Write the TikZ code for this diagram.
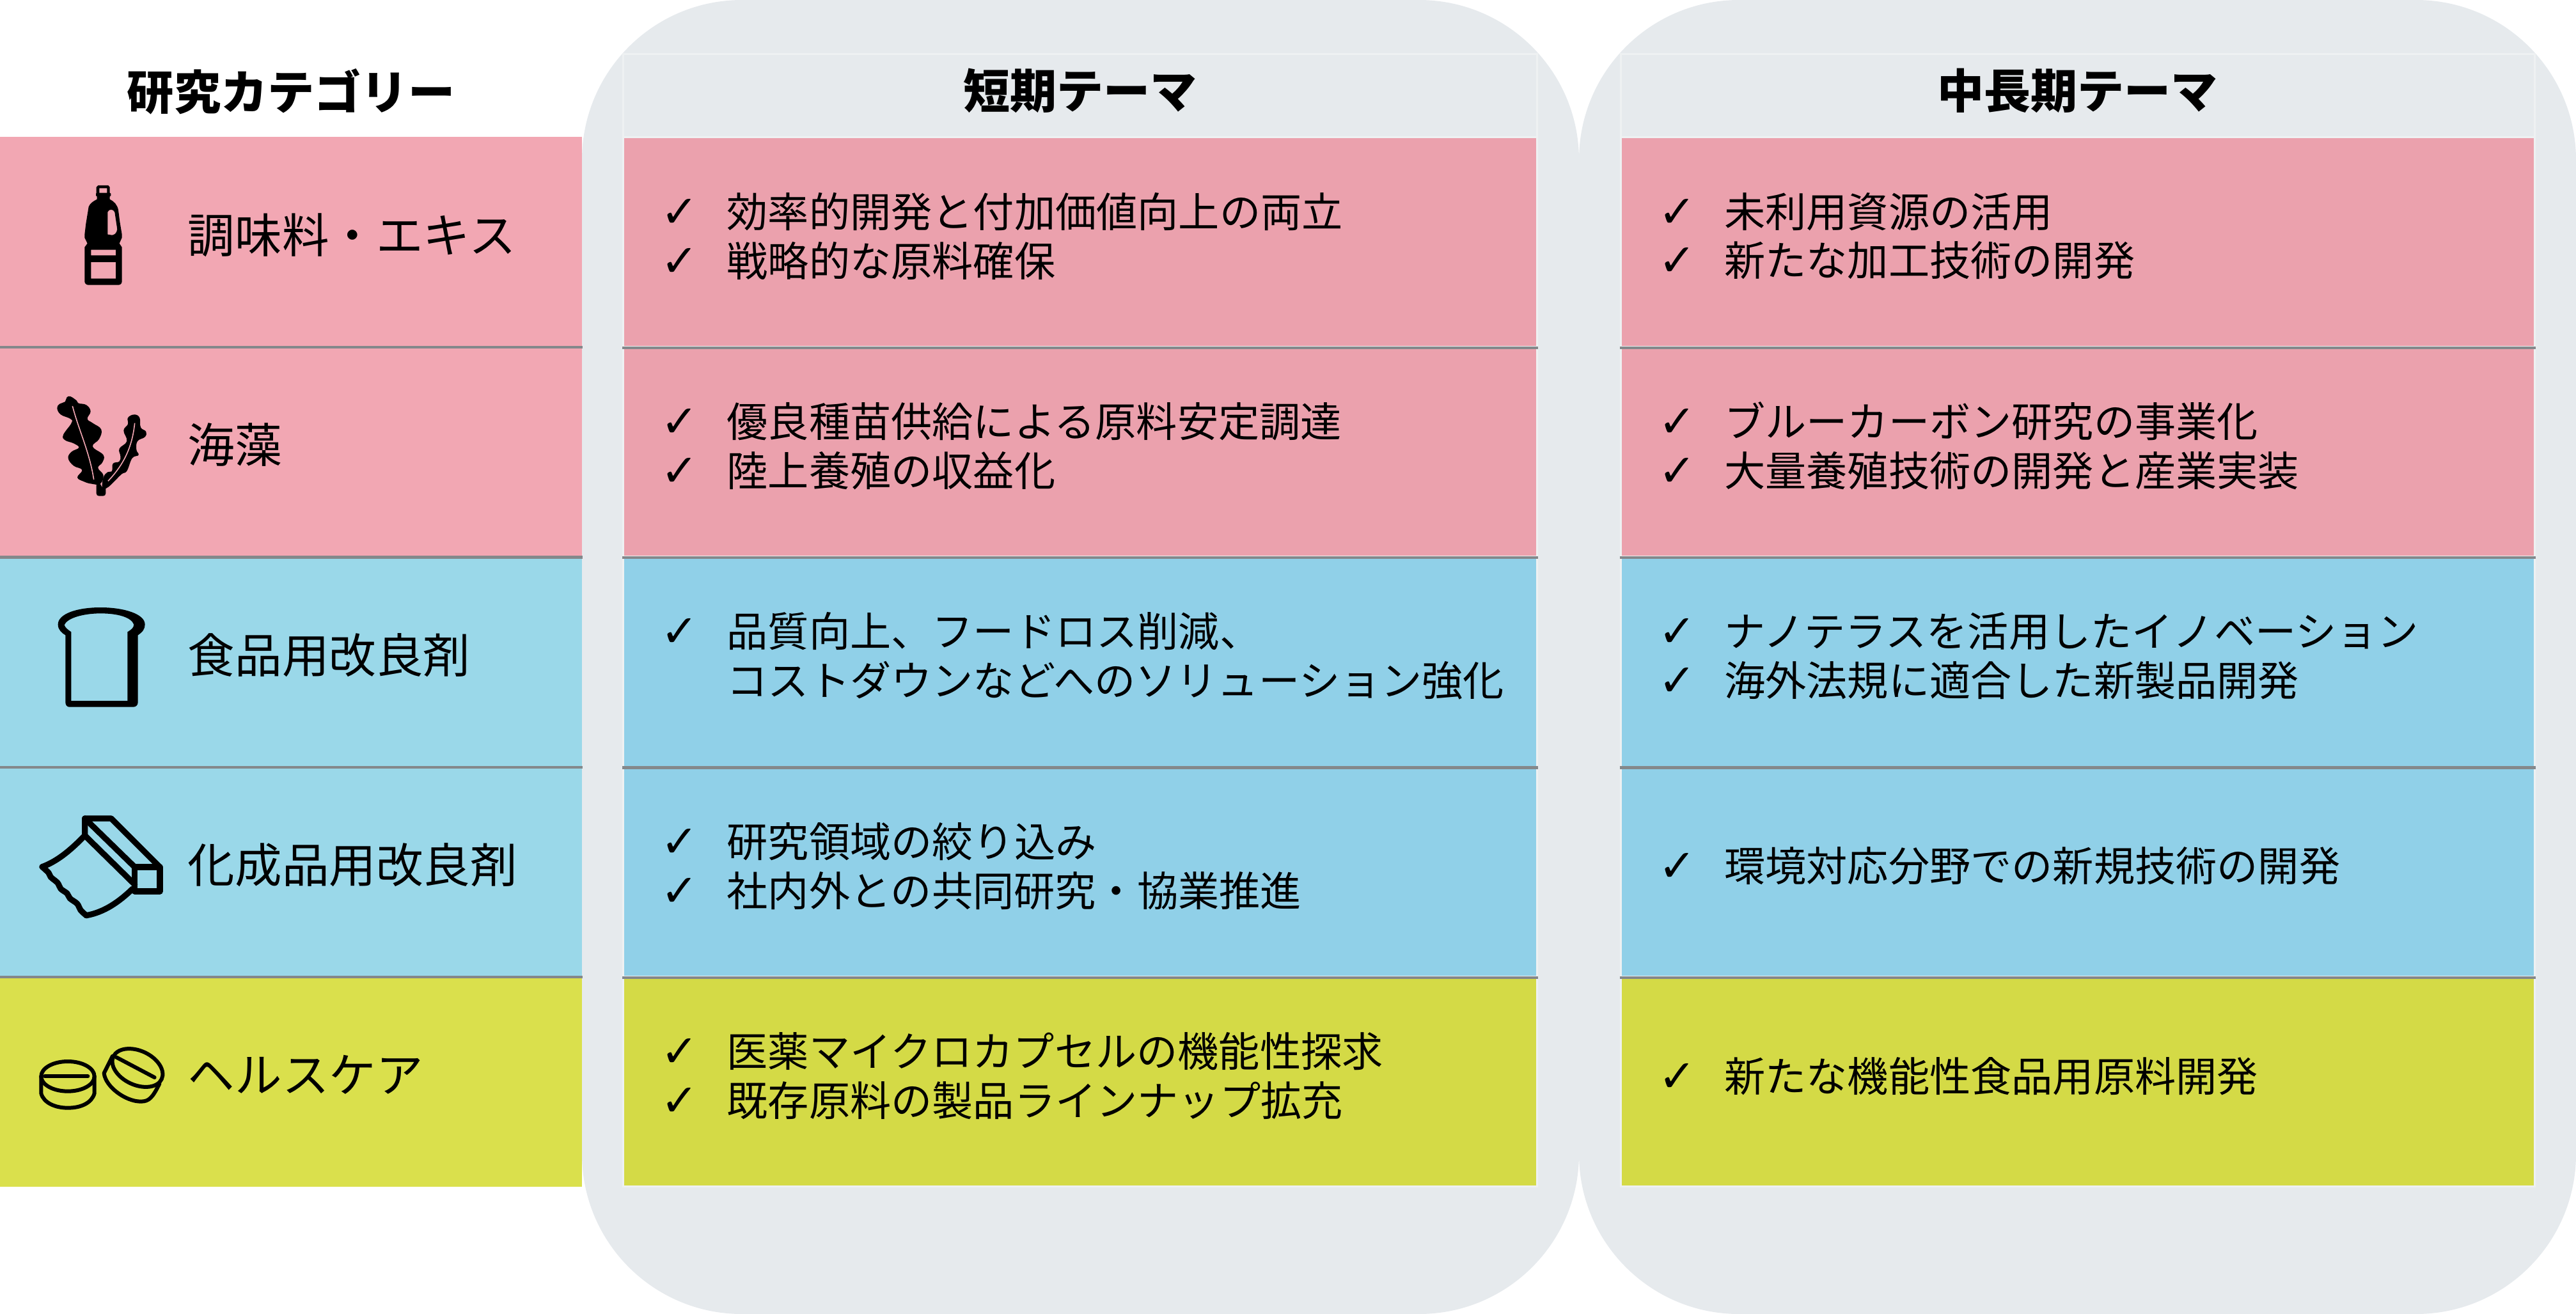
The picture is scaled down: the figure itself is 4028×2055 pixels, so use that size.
\documentclass[tikz,border=0pt]{standalone}
\usepackage{fontspec}
\usepackage{xcolor}
\usepackage{tikz}
\usetikzlibrary{positioning}
\setmainfont{Noto Sans CJK JP}
\newfontfamily\chkfont{DejaVu Sans}
\definecolor{dfbg}{RGB}{230,234,237}
\definecolor{dfedge}{RGB}{238,241,242}
\definecolor{dfrow}{RGB}{132,136,139}
\definecolor{catpink}{RGB}{242,167,179}
\definecolor{catblue}{RGB}{154,216,233}
\definecolor{catlime}{RGB}{218,224,76}
\definecolor{cellpink}{RGB}{235,161,173}
\definecolor{cellblue}{RGB}{144,208,232}
\definecolor{celllime}{RGB}{212,218,70}
\newcommand{\chk}{\hspace*{-0.6pt}{\chkfont\fontsize{17.5pt}{19pt}\selectfont ✓}}
\tikzstyle{bgbox} = [rectangle, minimum width=389.75pt, minimum height=513.75pt, inner sep=0pt, rounded corners=62.5pt, fill=dfbg]
\tikzstyle{catbox} = [rectangle, minimum height=82.1pt, text width=227.5pt, text height=15.12pt, text depth=6.48pt, inner sep=0pt, align=left, font=\fontsize{18.4pt}{21.6pt}\selectfont, execute at begin node={\hspace*{73.5pt}}]
\tikzstyle{cellbox} = [rectangle, minimum height=82.1pt, text width=326.45pt, inner xsep=15.4pt, inner ysep=0pt, align=left, draw=dfedge, line width=0.75pt, font=\fontsize{16.05pt}{19.1pt}\selectfont]
\tikzstyle{headbox} = [rectangle, minimum width=357.25pt, minimum height=32.5pt, text height=16pt, text depth=6pt, inner sep=0pt, draw=dfedge, line width=0.75pt, fill=dfbg, font=\fontsize{18.25pt}{21.6pt}\selectfont\bfseries]
\tikzstyle{rowline} = [line width=1.1pt, color=dfrow]
\tikzstyle{iconline} = [line width=2.3pt, line join=round, line cap=round]
\tikzstyle{pillline} = [line width=1.5pt, line join=round, line cap=round]

\begin{document}
\begin{tikzpicture}[x=0.25pt, y=-0.25pt, node distance=82.1pt]
\useasboundingbox (0,0) rectangle (4028,2055);
% Rounded panels
\node (shortbg) [bgbox] at (1689.5,1027.5) {};
\node (longbg) [bgbox] at (3248.5,1027.5) {};

% Category column
\node (cat1) [catbox, fill=catpink] at (455,378) {調味料・エキス};
\node (cat2) [catbox, fill=catpink, below of=cat1] {海藻};
\node (cat3) [catbox, fill=catblue, below of=cat2] {食品用改良剤};
\node (cat4) [catbox, fill=catblue, below of=cat3] {化成品用改良剤};
\node (cat5) [catbox, fill=catlime, below of=cat4] {ヘルスケア};

% Short term column
\node (short1) [cellbox, fill=cellpink] at (1689,378) {
\begin{tabular}{@{}p{25.15pt}@{}l@{}}
\chk & 効率的開発と付加価値向上の両立\\
\chk & 戦略的な原料確保
\end{tabular}
};
\node (short2) [cellbox, fill=cellpink, below of=short1] {
\begin{tabular}{@{}p{25.15pt}@{}l@{}}
\chk & 優良種苗供給による原料安定調達\\
\chk & 陸上養殖の収益化
\end{tabular}
};
\node (short3) [cellbox, fill=cellblue, below of=short2] {
\begin{tabular}{@{}p{25.15pt}@{}l@{}}
\chk & 品質向上、フードロス削減、\\
 & コストダウンなどへのソリューション強化
\end{tabular}
};
\node (short4) [cellbox, fill=cellblue, below of=short3] {
\begin{tabular}{@{}p{25.15pt}@{}l@{}}
\chk & 研究領域の絞り込み\\
\chk & 社内外との共同研究・協業推進
\end{tabular}
};
\node (short5) [cellbox, fill=celllime, below of=short4] {
\begin{tabular}{@{}p{25.15pt}@{}l@{}}
\chk & 医薬マイクロカプセルの機能性探求\\
\chk & 既存原料の製品ラインナップ拡充
\end{tabular}
};

% Long term column
\node (long1) [cellbox, fill=cellpink] at (3248.5,378) {
\begin{tabular}{@{}p{25.15pt}@{}l@{}}
\chk & 未利用資源の活用\\
\chk & 新たな加工技術の開発
\end{tabular}
};
\node (long2) [cellbox, fill=cellpink, below of=long1] {
\begin{tabular}{@{}p{25.15pt}@{}l@{}}
\chk & ブルーカーボン研究の事業化\\
\chk & 大量養殖技術の開発と産業実装
\end{tabular}
};
\node (long3) [cellbox, fill=cellblue, below of=long2] {
\begin{tabular}{@{}p{25.15pt}@{}l@{}}
\chk & ナノテラスを活用したイノベーション\\
\chk & 海外法規に適合した新製品開発
\end{tabular}
};
\node (long4) [cellbox, fill=cellblue, below of=long3] {
\begin{tabular}{@{}p{25.15pt}@{}l@{}}
\chk & 環境対応分野での新規技術の開発
\end{tabular}
};
\node (long5) [cellbox, fill=celllime, below of=long4] {
\begin{tabular}{@{}p{25.15pt}@{}l@{}}
\chk & 新たな機能性食品用原料開発
\end{tabular}
};

% Headers
\node (cathead) [font=\fontsize{18.3pt}{21.6pt}\selectfont\bfseries, inner sep=0pt] at (455,143) {研究カテゴリー};
\node (shorthead) [headbox] at (1689,149.5) {短期テーマ};
\node (longhead) [headbox] at (3248.5,149.5) {中長期テーマ};

% Row lines
\foreach \rowname in {cat1,cat2,cat3,cat4,short1,short2,short3,short4,long1,long2,long3,long4}
\draw[rowline] (\rowname.south west) -- (\rowname.south east);

% Bottle
\begin{scope}[shift={(100,270)}, scale=1/3]
\fill[even odd rule] (160,60) -- (152,68) -- (152,95) -- (150,100) -- (150,108) -- (155,112) -- (155,125)
 .. controls (135,135) and (122,145) .. (116,160) -- (103,240) -- (97,290) -- (97,305) -- (110,332) -- (97,350) -- (97,510)
 .. controls (97,520) and (105,527) .. (115,527) -- (255,527) .. controls (265,527) and (272,520) .. (272,510)
 -- (272,350) -- (260,332) -- (272,305) -- (272,290) -- (262,230) -- (255,175) .. controls (250,150) and (235,135) .. (215,125)
 -- (215,112) -- (220,108) -- (220,98) -- (215,95) -- (215,68) -- (208,60) -- cycle
 (166,73) rectangle (202,95)
 (127,362) rectangle (243,388)
 (127,420) rectangle (243,497)
 (205,185) .. controls (210,170) and (232,170) .. (238,185) -- (250,265) .. controls (248,285) and (235,293) .. (225,293) -- (205,290) -- cycle;
\end{scope}

% Seaweed
\begin{scope}[shift={(60,600)}, scale=1/3]
\fill plot[smooth cycle, tension=0.7] coordinates {(150,60) (180,80) (188,92) (225,100) (245,130) (230,165) (255,185) (295,215) (285,260) (255,295) (305,335) (300,370) (280,395) (305,430) (290,470) (250,470) (215,460) (183,440) (205,405) (165,385) (140,350) (155,320) (190,300) (165,280) (125,265) (117,240) (155,185) (150,165) (105,145) (88,115) (100,95) (125,85) (133,65)};
\fill plot[smooth cycle, tension=0.7] coordinates {(450,145) (475,160) (480,205) (505,225) (500,250) (465,270) (460,310) (470,335) (440,350) (415,410) (390,425) (345,470) (320,490) (300,490) (305,440) (325,415) (345,410) (350,375) (380,365) (385,340) (380,305) (415,270) (400,220) (420,190) (420,160)};
\fill[rounded corners=1pt] (272,465) -- (292,465) -- (296,490) -- (316,480) -- (316,527) -- (272,527) -- cycle;
\draw[catpink, line width=0.4pt] (160,105) .. controls (190,220) and (240,320) .. (260,450);
\draw[catpink, line width=0.4pt] (452,185) .. controls (440,300) and (400,380) .. (327,457);
\end{scope}

% Bread
\begin{scope}[shift={(70,930)}, scale=1/3]
\fill[even odd rule] (97,190) -- (97,505) .. controls (97,518) and (105,527) .. (115,527) -- (415,527) .. controls (428,527) and (437,518) .. (437,505) -- (437,190)
 .. controls (460,175) and (470,160) .. (470,140) .. controls (470,90) and (370,60) .. (262,60) .. controls (150,60) and (62,90) .. (62,140) .. controls (62,165) and (80,180) .. (97,190) -- cycle
 (124,175) -- (124,498) -- (388,498) -- (388,175) .. controls (405,165) and (418,155) .. (418,140) .. controls (405,105) and (340,88) .. (262,88) .. controls (180,88) and (105,110) .. (92,142) .. controls (95,155) and (110,165) .. (124,175) -- cycle;
\end{scope}

% Pouch
\begin{scope}[shift={(50,1250)}, scale=1/3]
\draw[iconline] (248,90) -- (372,90) -- (600,318) -- (482,318) -- cycle;
\draw[iconline] (482,318) -- (600,318) -- (600,432) -- (482,432) -- cycle;
\draw[iconline] (248,90) -- (248,170) -- (482,400);
\draw[iconline] (248,170) .. controls (180,240) and (120,290) .. (48,317);
\draw[iconline] plot[smooth, tension=0.6] coordinates {(48,317) (78,345) (88,365) (120,392) (135,420) (165,442) (178,465) (212,490) (228,520) (255,545)};
\draw[iconline] (255,545) .. controls (340,530) and (410,480) .. (472,420);
\end{scope}

% Pills
\begin{scope}[shift={(50,1610)}, scale=1/3]
\draw[pillline] (168,220) ellipse [x radius=125, y radius=70];
\draw[pillline] (60,220) -- (262,220);
\draw[pillline] (43,220) -- (43,300) .. controls (55,345) and (110,368) .. (168,368) .. controls (230,368) and (280,345) .. (293,300) -- (293,220);
\draw[pillline] (495,180) ellipse [x radius=125, y radius=80, rotate=-25];
\draw[pillline] (395,130) -- (575,225);
\draw[pillline] (378,125) -- (338,205) .. controls (345,270) and (440,338) .. (510,338) .. controls (550,338) and (565,320) .. (598,255);
\end{scope}
\end{tikzpicture}
\end{document}
